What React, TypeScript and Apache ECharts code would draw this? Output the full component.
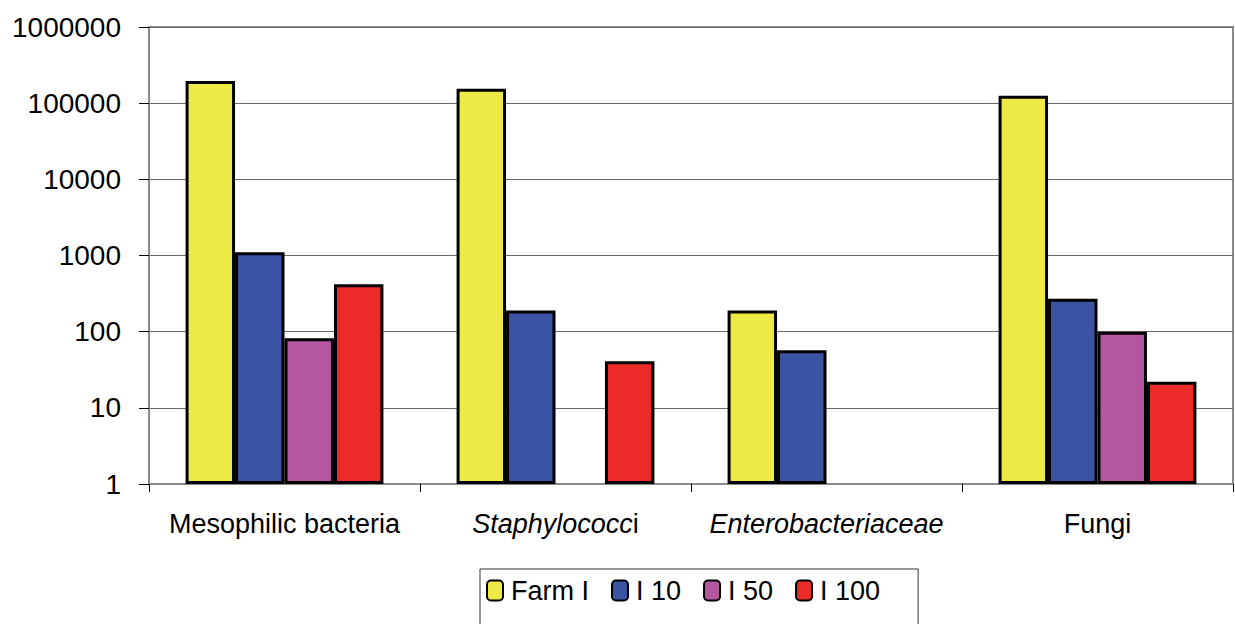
import React, { useEffect, useRef } from "react";
import * as echarts from "echarts";

const categories = ["Mesophilic bacteria", "Staphylococci", "Enterobacteriaceae", "Fungi"];
const seriesNames = ["Farm I", "I 10", "I 50", "I 100"];
const farmI = [195000, 155000, 190, 125000];
const i10 = [1100, 190, 57, 270];
const i50 = [82, null, null, 100];
const i100 = [420, 41, null, 22];
const colors = ["#EDEA45", "#3A53A3", "#B556A3", "#EC2A29"];

export default function App() {
  const ref = useRef<HTMLDivElement>(null);
  useEffect(() => {
    if (!ref.current) return;
    const chart = echarts.init(ref.current, null, { renderer: "svg" });
    const font = "Liberation Sans, Arial, sans-serif";
    const values = [farmI, i10, i50, i100];
    chart.setOption({
      animation: false,
      backgroundColor: "#ffffff",
      textStyle: { fontFamily: font },
      grid: {
        left: 149,
        right: 2,
        top: 27,
        bottom: 140,
        show: true,
        borderColor: "#8a8a8a",
        borderWidth: 2,
        backgroundColor: "transparent",
      },
      legend: {
        left: 480,
        top: 569,
        orient: "horizontal",
        padding: [8, 38, 40, 6],
        borderColor: "#333",
        borderWidth: 1,
        itemWidth: 16,
        itemHeight: 20,
        itemGap: 22,
        textStyle: { fontFamily: font, fontSize: 27, color: "#000", padding: [0, 0, 0, 3] },
        data: seriesNames,
      },
      xAxis: {
        type: "category",
        data: categories,
        axisLine: { lineStyle: { color: "#8a8a8a", width: 2 } },
        axisTick: { show: true, interval: 0, length: 8, lineStyle: { color: "#000", width: 1 } },
        axisLabel: {
          interval: 0,
          margin: 26,
          fontSize: 27,
          color: "#000",
          fontFamily: font,
          formatter: (v: string) => {
            if (v === "Staphylococci") return "{it|Staphylococc}{n|i}";
            if (v === "Enterobacteriaceae") return "{it|Enterobacteriaceae}";
            return "{n|" + v + "}";
          },
          rich: {
            it: { fontStyle: "italic", fontSize: 27, color: "#000", fontFamily: font },
            n: { fontSize: 27, color: "#000", fontFamily: font },
          },
        },
      },
      yAxis: {
        type: "log",
        logBase: 10,
        min: 1,
        max: 1000000,
        axisLine: { show: true, lineStyle: { color: "#8a8a8a", width: 2 } },
        axisTick: { show: true, length: 10, lineStyle: { color: "#000", width: 1 } },
        minorTick: { show: false },
        splitLine: { show: true, lineStyle: { color: "#6a6a6a", width: 1.2 } },
        axisLabel: {
          margin: 28,
          fontSize: 28,
          color: "#000",
          fontFamily: font,
          formatter: (v: number) => String(Math.round(v)),
        },
      },
      series: seriesNames.map((name, k) => ({
        name,
        type: "bar",
        data: values[k],
        barGap: "0%",
        barCategoryGap: "27%",
        itemStyle: { color: colors[k], borderColor: "#000", borderWidth: 3 },
      })),
    });
    return () => chart.dispose();
  }, []);
  return <div ref={ref} style={{ width: 1235, height: 624, position: "absolute", left: 0, top: 0 }} />;
}
